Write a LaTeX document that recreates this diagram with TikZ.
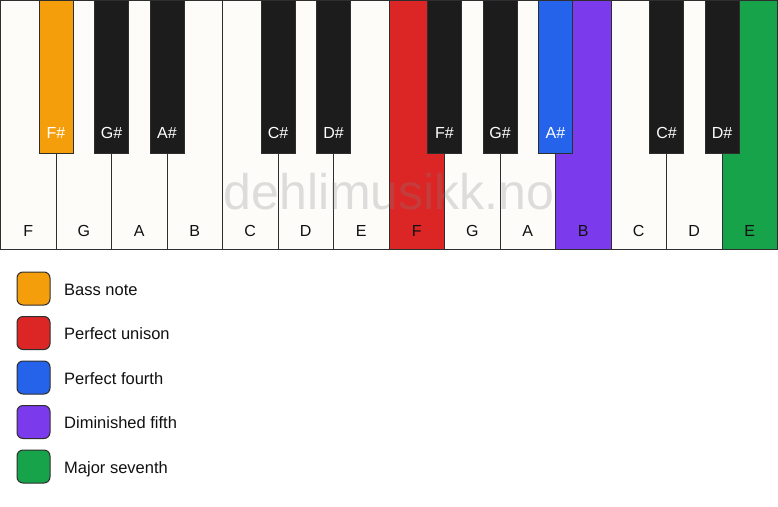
\documentclass[tikz,border=0pt]{standalone}
\usepackage{fontspec}
\setmainfont{Liberation Sans}
\definecolor{bassc}{HTML}{F59E0B}
\definecolor{unic}{HTML}{DC2626}
\definecolor{fourc}{HTML}{2563EB}
\definecolor{dimc}{HTML}{7C3AED}
\definecolor{sevc}{HTML}{16A34A}
\definecolor{ivory}{HTML}{FDFCF9}
\definecolor{ebony}{HTML}{1C1C1C}
\definecolor{edge}{HTML}{2E2E2E}
\definecolor{ink}{HTML}{111111}
\tikzset{
  whitekey/.style={draw=edge, line width=1pt, fill=ivory, minimum width=55.5pt, minimum height=249pt, inner sep=0pt, outer sep=0pt, anchor=north west},
  blackkey/.style={draw=edge, line width=1pt, fill=ebony, minimum width=34pt, minimum height=153pt, inner sep=0pt, outer sep=0pt, anchor=north},
  wlabel/.style={font=\fontsize{16}{18}\selectfont, text=ink, anchor=base, inner sep=0pt},
  blabel/.style={font=\fontsize{16}{18}\selectfont, text=white, anchor=base, inner sep=0pt},
  legbox/.style={draw=edge, line width=1pt, rounded corners=6pt, minimum width=33pt, minimum height=33pt, inner sep=0pt},
  legtext/.style={font=\fontsize{16.5}{18}\selectfont, text=ink, anchor=base west, inner sep=0pt},
  wmark/.style={font=\fontsize{50}{56}\selectfont, text=gray, opacity=0.25, anchor=base, inner sep=0pt}
}
\begin{document}
\begin{tikzpicture}[x=1pt,y=-1pt]
\useasboundingbox (0,0) rectangle (778,506);
\fill[white] (0,0) rectangle (778,506);
% white keys
\foreach \i/\n/\c in {0/F/ivory,1/G/ivory,2/A/ivory,3/B/ivory,4/C/ivory,5/D/ivory,6/E/ivory,7/F/unic,8/G/ivory,9/A/ivory,10/B/dimc,11/C/ivory,12/D/ivory,13/E/sevc}{
  \node[whitekey, fill=\c] (wk\i) at ({0.5+\i*55.5},0) {};
  \node[wlabel] (wl\i) at ({0.5+\i*55.5+27.75},236) {\n};
}
% black keys
\foreach \i/\n/\c in {0/F\#/bassc,1/G\#/ebony,2/A\#/ebony,4/C\#/ebony,5/D\#/ebony,7/F\#/ebony,8/G\#/ebony,9/A\#/fourc,11/C\#/ebony,12/D\#/ebony}{
  \node[blackkey, fill=\c] (bk\i) at ({0.5+(\i+1)*55.5},0) {};
  \node[blabel] (bl\i) at ({0.5+(\i+1)*55.5},138) {\n};
}
% watermark
\node[wmark] (wm) at (389,209) {dehlimusikk.no};
% legend
\foreach \k/\c/\t in {0/bassc/Bass note,1/unic/Perfect unison,2/fourc/Perfect fourth,3/dimc/Diminished fifth,4/sevc/Major seventh}{
  \node[legbox, fill=\c] (lb\k) at (33.5,{288.5+\k*44.5}) {};
  \node[legtext] (lt\k) at (64,{295+\k*44.5}) {\t};
}
\end{tikzpicture}
\end{document}
